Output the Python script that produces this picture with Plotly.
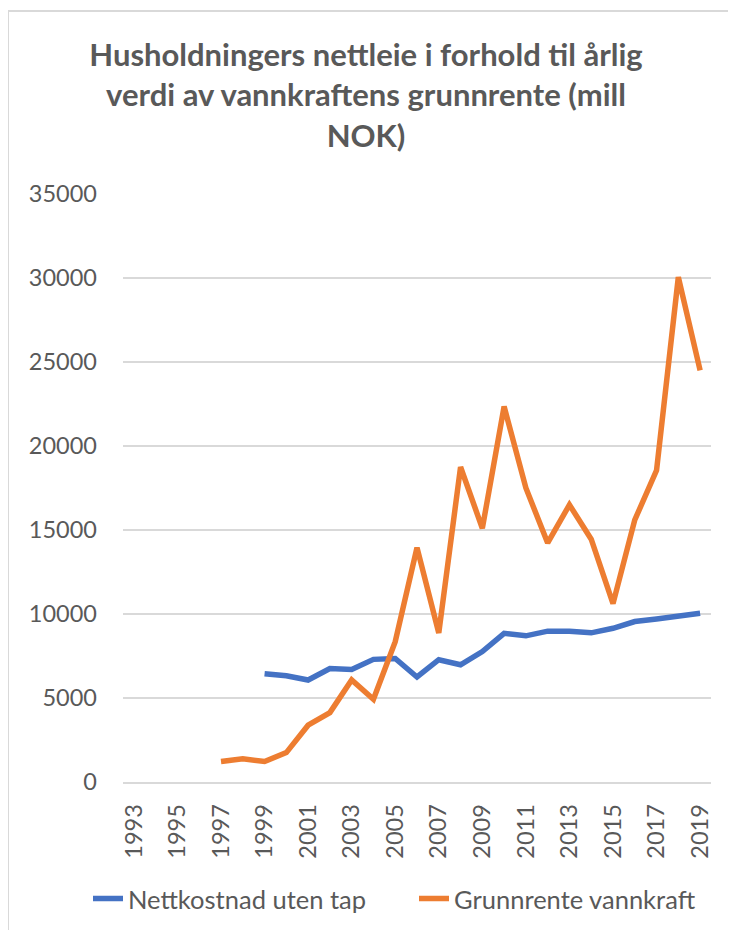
import plotly.graph_objects as go

years = [str(y) for y in [1993, 1994, 1995, 1996, 1997, 1998, 1999, 2000, 2001, 2002,
                          2003, 2004, 2005, 2006, 2007, 2008, 2009, 2010, 2011, 2012,
                          2013, 2014, 2015, 2016, 2017, 2018, 2019]]

nettkostnad = [None, None, None, None, None, None, 6450, 6320, 6070, 6750,
               6700, 7300, 7350, 6250, 7280, 6980, 7760, 8850, 8700, 8980,
               8980, 8880, 9150, 9550, 9700, 9900, 10050]

grunnrente = [None, None, None, None, 1220, 1380, 1220, 1750, 3380, 4130,
              6070, 4920, 8350, 13950, 8870, 18750, 15100, 22350, 17500, 14230,
              16500, 14450, 10620, 15600, 18550, 30050, 24500]

tick_labels = ["1993", "1995", "1997", "1999", "2001", "2003", "2005",
               "2007", "2009", "2011", "2013", "2015", "2017", "2019"]

series_names = ["Nettkostnad uten tap", "Grunnrente vannkraft"]
title_text = ("Husholdningers nettleie i forhold til årlig<br>"
              "verdi av vannkraftens grunnrente (mill<br>NOK)")

FONT = "Lato"
GREY = "#595959"
OFF = 8  # page body margin offset
W, H = 736 - 2 * OFF, 938 - 2 * OFF

fig = go.Figure()
fig.add_trace(go.Scatter(x=years, y=nettkostnad, name=series_names[0], mode="lines",
                         line=dict(color="#4472C4", width=5.5), connectgaps=False,
                         legend="legend"))
fig.add_trace(go.Scatter(x=years, y=grunnrente, name=series_names[1], mode="lines",
                         line=dict(color="#ED7D31", width=5.5), connectgaps=False,
                         legend="legend2"))

leg_common = dict(orientation="h", xref="container", yref="container", xanchor="left",
                  y=1 - (899 - OFF) / H, yanchor="middle",
                  font=dict(size=25.5, color=GREY), bgcolor="rgba(0,0,0,0)")

fig.update_layout(
    width=W, height=H,
    margin=dict(l=123 - OFF, r=W - (123 - OFF) - 588, t=194 - OFF, b=H - (194 - OFF) - 588),
    paper_bgcolor="white", plot_bgcolor="white",
    font=dict(family=FONT, color=GREY, size=23),
    title=dict(text=title_text, x=(366 - OFF) / W, xref="container", xanchor="center",
               y=1 - 58 / H, yref="container", yanchor="top",
               font=dict(family=FONT, size=31, color=GREY, weight="bold")),
    showlegend=True,
    legend=dict(x=(88 - OFF) / W, **leg_common),
    legend2=dict(x=(414 - OFF) / W, **leg_common),
    xaxis=dict(type="category", categoryorder="array", categoryarray=years,
               tickmode="array", tickvals=tick_labels, ticktext=tick_labels,
               tickangle=-90, showgrid=False, showline=True, linecolor="#D9D9D9",
               linewidth=1.5, ticks="", ticklabelstandoff=11,
               tickfont=dict(size=23.5, color=GREY), range=[-0.5, 26.5]),
    yaxis=dict(range=[0, 35000], dtick=5000, showgrid=True, gridcolor="#D9D9D9",
               gridwidth=1.5, zeroline=False, ticks="", showline=False,
               ticklabelstandoff=25, tickfont=dict(size=23.5, color=GREY),
               tickformat="d"),
    shapes=[
        dict(type="line", xref="paper", yref="paper", x0=(8 - 123) / 588, x1=(8 - 123) / 588,
             y0=(782 - 11) / 588, y1=(782 - 940) / 588, line=dict(color="#D9D9D9", width=2)),
        dict(type="line", xref="paper", yref="paper", x0=(8 - 123) / 588, x1=(740 - 123) / 588,
             y0=(782 - 11) / 588, y1=(782 - 11) / 588, line=dict(color="#D9D9D9", width=2)),
    ],
)

fig.write_html("out.html", config={"displayModeBar": False})
